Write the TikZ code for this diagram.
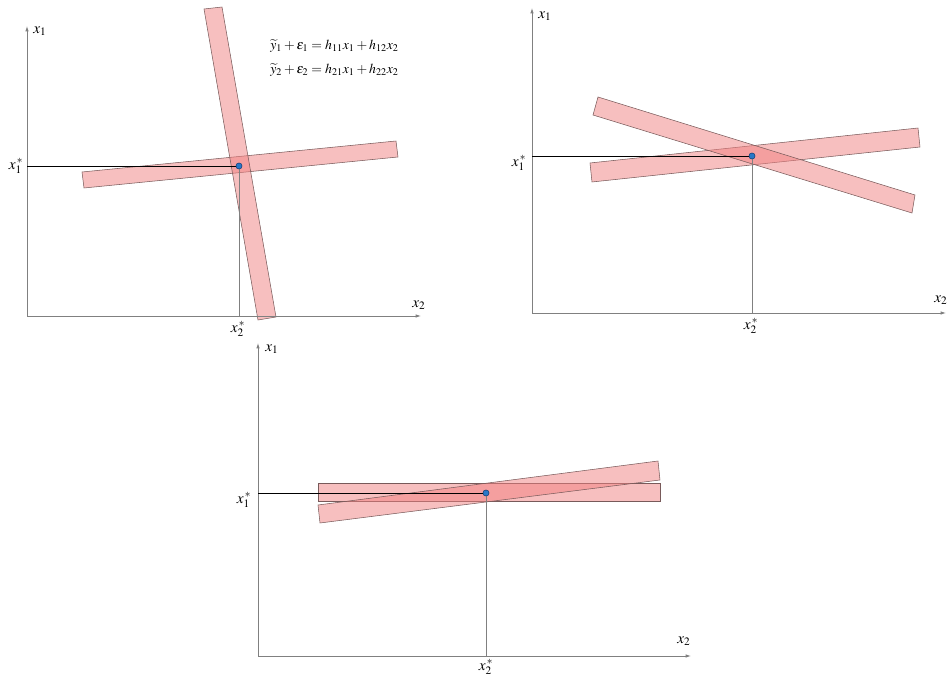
\documentclass[tikz,border=0pt]{standalone}
\usepackage{mathptmx}
\usetikzlibrary{arrows.meta}
\definecolor{bandfill}{RGB}{240,128,128}
\definecolor{bandedge}{RGB}{120,90,90}
\definecolor{axisgray}{RGB}{128,128,128}
\definecolor{dotblue}{RGB}{40,120,200}
\definecolor{dotedge}{RGB}{30,60,110}
\begin{document}
\begin{tikzpicture}[x=0.75pt,y=-0.75pt,
  band/.style={draw=bandedge, line width=0.4pt, fill=bandfill, fill opacity=0.5},
  axis/.style={draw=axisgray, line width=0.6pt, -{Latex[length=4pt,width=2.6pt]}},
  guide/.style={draw=black, line width=0.6pt},
  vguide/.style={draw=axisgray, line width=0.6pt},
  sol/.style={circle, fill=dotblue, draw=dotedge, line width=0.3pt, inner sep=0pt, minimum size=4.5pt},
  lab/.style={inner sep=0pt, font=\fontsize{11.5}{13}\selectfont},
  eq/.style={inner sep=0pt, anchor=west, font=\fontsize{10.3}{12}\selectfont}]
\useasboundingbox (0,0) rectangle (951,680);

% ---------- panel 1 ----------
\coordinate (o1) at (27,316);
\coordinate (t1) at (27,26);
\coordinate (r1) at (421,316);
\filldraw[band] (82,172) -- (396,141) -- (398,157) -- (84,188) -- cycle;
\filldraw[band] (204,9) -- (222,7) -- (276,317) -- (258,320) -- cycle;
\draw[axis] (o1) -- (t1);
\draw[axis] (o1) -- (r1);
\node[sol] (p1) at (239,166) {};
\draw[guide] (o1 |- p1) -- (p1.center);
\draw[vguide] (p1.center) -- (p1 |- o1);
\node[sol] at (p1) {};
\node[lab] (a1) at (40,31) {$x_1$};
\node[lab] (b1) at (419,305) {$x_2$};
\node[lab] (c1) at (16,166) {$x_1^{\,*}$};
\node[lab] (d1) at (238,329) {$x_2^{\,*}$};
\node[eq] (e1) at (270,46) {$\widetilde{y}_1+\varepsilon_1=h_{11}x_1+h_{12}x_2$};
\node[eq] (e2) at (270,70) {$\widetilde{y}_2+\varepsilon_2=h_{21}x_1+h_{22}x_2$};

% ---------- panel 2 ----------
\coordinate (o2) at (532,313);
\coordinate (t2) at (532,8);
\coordinate (r2) at (946,313);
\filldraw[band] (590,163) -- (918,128) -- (920,147) -- (592,182) -- cycle;
\filldraw[band] (598,97) -- (915,195) -- (912,213) -- (593,115) -- cycle;
\draw[axis] (o2) -- (t2);
\draw[axis] (o2) -- (r2);
\node[sol] (p2) at (752,156) {};
\draw[guide] (o2 |- p2) -- (p2.center);
\draw[vguide] (p2.center) -- (p2 |- o2);
\node[sol] at (p2) {};
\node[lab] (a2) at (545,16) {$x_1$};
\node[lab] (b2) at (941,300) {$x_2$};
\node[lab] (c2) at (519,163) {$x_1^{\,*}$};
\node[lab] (d2) at (751,326) {$x_2^{\,*}$};

% ---------- panel 3 ----------
\coordinate (o3) at (258,656);
\coordinate (t3) at (258,343);
\coordinate (r3) at (691,656);
\filldraw[band] (318,483) -- (660,483) -- (660,501) -- (318,501) -- cycle;
\filldraw[band] (318,505) -- (658,461) -- (660,480) -- (320,523) -- cycle;
\draw[axis] (o3) -- (t3);
\draw[axis] (o3) -- (r3);
\node[sol] (p3) at (486,493) {};
\draw[guide] (o3 |- p3) -- (p3.center);
\draw[vguide] (p3.center) -- (p3 |- o3);
\node[sol] at (p3) {};
\node[lab] (a3) at (272,349) {$x_1$};
\node[lab] (b3) at (684,641) {$x_2$};
\node[lab] (c3) at (244,500) {$x_1^{\,*}$};
\node[lab] (d3) at (486,667) {$x_2^{\,*}$};
\end{tikzpicture}
\end{document}
